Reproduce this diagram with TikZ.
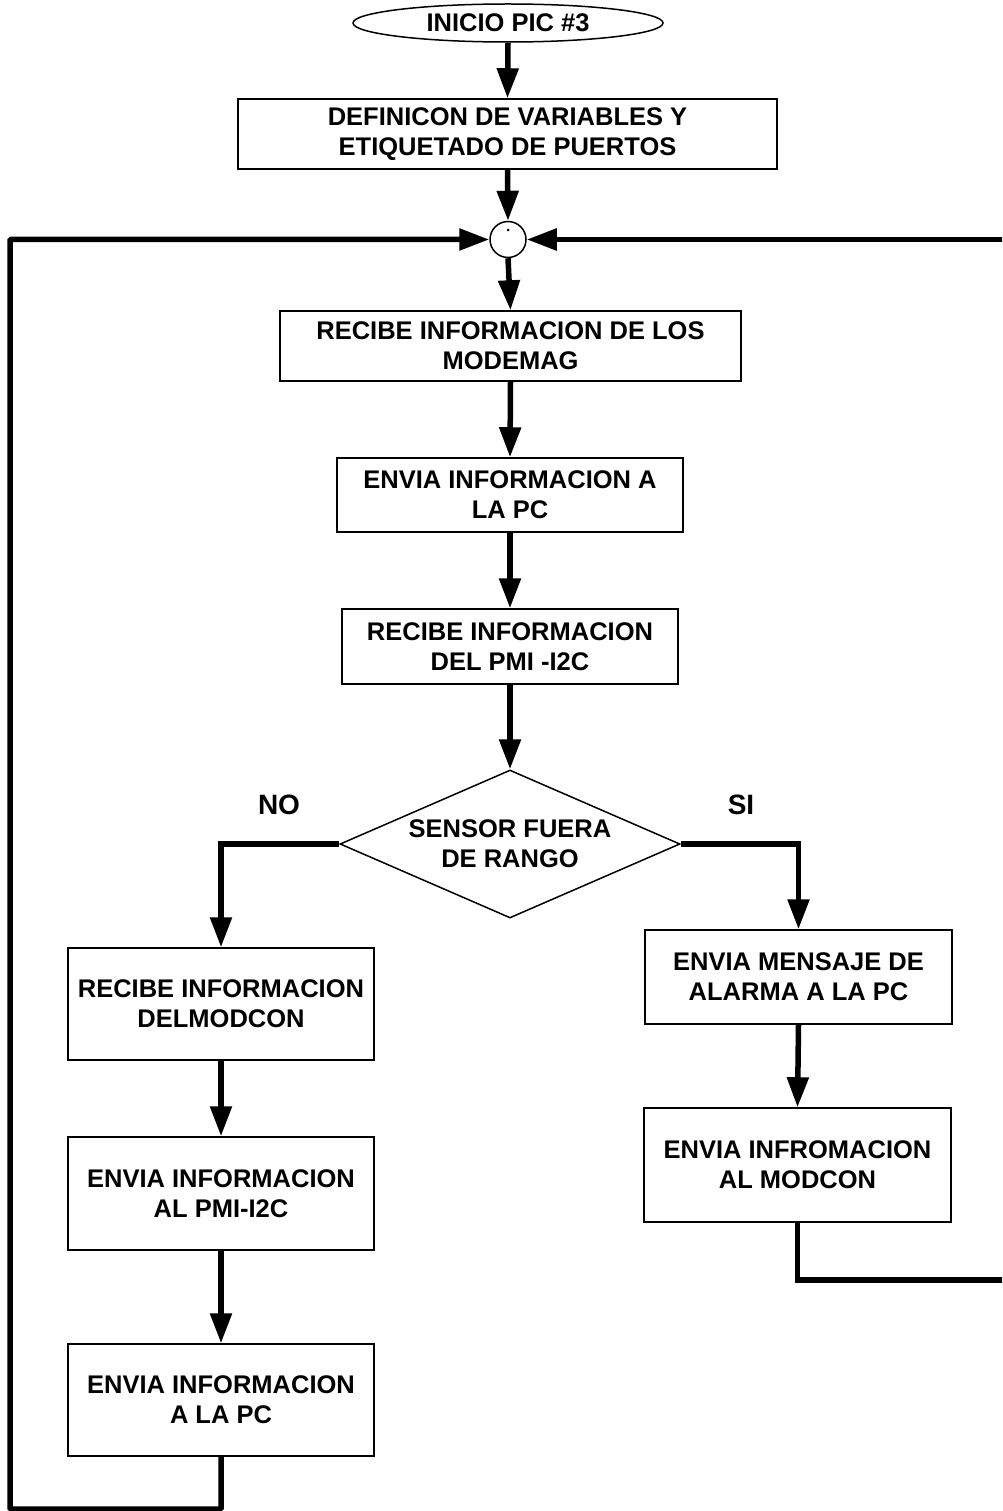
\documentclass[tikz,border=0pt]{standalone}
\usepackage{fontspec}
\setmainfont{Liberation Sans}
\usetikzlibrary{arrows.meta,shapes.geometric}
\begin{document}
\begin{tikzpicture}[x=1pt,y=-1pt,
  every node/.style={font=\fontsize{25.5}{30}\selectfont\bfseries, align=center, inner sep=0pt},
  procbox/.style={draw, line width=1.5pt, rectangle},
  flow/.style={line width=5.5pt, -{Triangle[length=30pt,width=21pt]}},
  lbl/.style={font=\fontsize{28}{32}\selectfont\bfseries}]
\useasboundingbox (0,0) rectangle (1002,1511);
\fill[white] (0,0) rectangle (1002,1511);
\clip (0,0) rectangle (1002,1511);

% start terminal
\node[draw, ellipse, line width=1.5pt, minimum width=310pt, minimum height=38pt] (start) at (508,23) {INICIO PIC \#3};

% main column
\node[procbox, minimum width=539pt, minimum height=70pt] (defs) at (507.5,134) {DEFINICON DE VARIABLES Y\\ETIQUETADO DE PUERTOS};
\node[draw, circle, line width=1.5pt, minimum size=36pt] (join) at (508,239.5) {};
\fill (508,230) circle (1.5pt);
\node[procbox, minimum width=461pt, minimum height=70pt] (rxmag) at (510.5,346) {RECIBE INFORMACION DE LOS\\MODEMAG};
\node[procbox, minimum width=346pt, minimum height=74pt] (txpc) at (510,495) {ENVIA INFORMACION A\\LA PC};
\node[procbox, minimum width=336pt, minimum height=75pt] (rxpmi) at (510,646.5) {RECIBE INFORMACION\\DEL PMI -I2C};

% decision
\node[draw, diamond, line width=1.5pt, minimum width=340pt, minimum height=148pt,
      label=center:{SENSOR FUERA\\DE RANGO}] (range) at (510,844) {};
\node[lbl] (no) at (279,805) {NO};
\node[lbl] (si) at (741,805) {SI};

% left branch
\node[procbox, minimum width=306pt, minimum height=112pt] (rxcon) at (221,1004) {RECIBE INFORMACION\\DELMODCON};
\node[procbox, minimum width=306pt, minimum height=113pt] (txpmi) at (221,1193.5) {ENVIA INFORMACION\\AL PMI-I2C};
\node[procbox, minimum width=306pt, minimum height=112pt] (txpc2) at (221,1400) {ENVIA INFORMACION\\A LA PC};

% right branch
\node[procbox, minimum width=307pt, minimum height=94pt] (alarm) at (798.5,977) {ENVIA MENSAJE DE\\ALARMA A LA PC};
\node[procbox, minimum width=307pt, minimum height=114pt] (txcon) at (797.5,1165) {ENVIA INFROMACION\\AL MODCON};

% loop corners
\coordinate (lb) at (10,1509);
\coordinate (rb) at (1015,1280);

% connectors
\draw[flow] (start.south) -- (defs.north);
\draw[flow] (defs.south) -- (join.north);
\draw[flow] (join.south) -- (rxmag.north);
\draw[flow] (rxmag.south) -- (txpc.north);
\draw[flow] (txpc.south) -- (rxpmi.north);
\draw[flow] (rxpmi.south) -- (range.north);
\draw[flow] (range.west) -| (rxcon.north);
\draw[flow] (range.east) -| (alarm.north);
\draw[flow] (rxcon.south) -- (txpmi.north);
\draw[flow] (txpmi.south) -- (txpc2.north);
\draw[flow] (alarm.south) -- (txcon.north);
\draw[flow, rounded corners=1pt] (txpc2.south) |- (lb) |- (join.west);
\draw[flow] (txcon.south) |- (rb) |- (join.east);
\end{tikzpicture}
\end{document}
